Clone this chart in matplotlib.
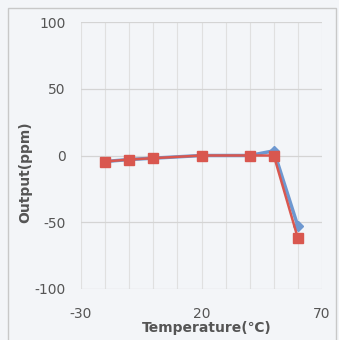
#!/usr/bin/env python3
# Output drift vs temperature, two samples

import matplotlib.pyplot as plt
from matplotlib.patches import Rectangle
from matplotlib.ticker import MultipleLocator

temps = [-20, -10, 0, 20, 40, 50, 60]
sample_a = [-4.5, -3, -2, 0, 0, 3.5, -53]
sample_b = [-4.5, -3, -2, 0, 0, 0, -62]

x_ticks = [-30, 20, 70]
y_ticks = [-100, -50, 0, 50, 100]

plt.rcParams["font.family"] = ["DejaVu Sans", "Noto Sans CJK JP"]
plt.rcParams["axes.unicode_minus"] = False

bg = "#f3f5f8"
txt = "#555555"
fig = plt.figure(figsize=(3.39, 3.40), dpi=100, facecolor=bg)
fig.patches.append(Rectangle((8 / 339, -0.05), 328 / 339, 1.05 - 8 / 340,
                             transform=fig.transFigure, fill=False,
                             edgecolor="#c8c8c8", linewidth=1.0))

ax = fig.add_axes([81 / 339, 1 - 289 / 340, 241 / 339, 267 / 340])
ax.set_facecolor(bg)

ax.plot(temps, sample_a, color="#6e98d0", linewidth=2.5, marker="D",
        markersize=5, zorder=3)
ax.plot(temps, sample_b, color="#d9574f", linewidth=1.8, marker="s",
        markersize=6.5, zorder=4)

ax.set_xlim(-30, 70)
ax.set_ylim(-100, 100)
ax.set_xticks(x_ticks)
ax.set_yticks(y_ticks)
ax.xaxis.set_minor_locator(MultipleLocator(10))
ax.grid(which="major", axis="y", color="#d4d4d4", linewidth=0.9)
ax.grid(which="both", axis="x", color="#e0e0e0", linewidth=0.8)
ax.set_axisbelow(True)
for s in ax.spines.values():
    s.set_visible(False)
ax.tick_params(which="both", length=0, labelsize=10, colors=txt)
ax.tick_params(axis="y", pad=11)
ax.tick_params(axis="x", pad=13)

fig.text(207 / 339, 1 - 328 / 340, "Temperature(℃)", fontsize=10,
         fontweight="bold", color=txt, ha="center", va="center")
fig.text(25 / 339, 1 - 172 / 340, "Output(ppm)", fontsize=10,
         fontweight="bold", color=txt, ha="center", va="center", rotation=90)

fig.savefig("out.png", dpi=100, facecolor=bg)
